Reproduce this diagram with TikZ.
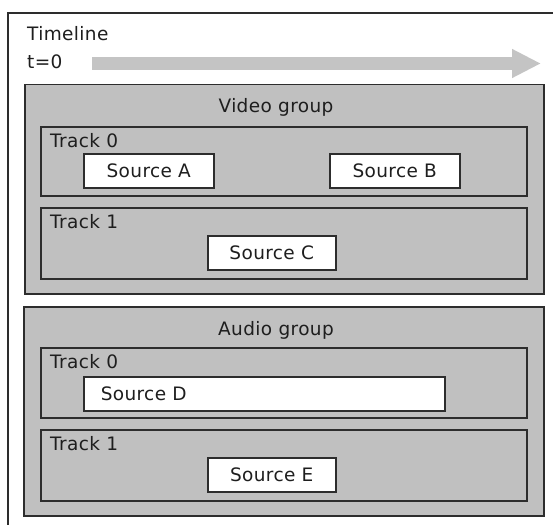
\documentclass[tikz,border=0pt]{standalone}
\usepackage{fontspec}
\setmainfont[LetterSpace=2]{DejaVu Sans}
\usetikzlibrary{arrows.meta}
\definecolor{panelgray}{RGB}{192,192,192}
\definecolor{bargray}{RGB}{196,196,196}
\definecolor{inkline}{RGB}{45,45,45}
\definecolor{inktext}{RGB}{30,30,30}
\begin{document}
\begin{tikzpicture}[x=1pt,y=-1pt,
  txt/.style={font=\fontsize{18.5pt}{22pt}\selectfont, text=inktext, inner sep=0pt},
  frame/.style={draw=inkline, line width=1.5pt, anchor=north west, inner sep=0pt},
  groupbox/.style={frame, fill=panelgray},
  trackbox/.style={frame, minimum width=486pt},
  sourcebox/.style={frame, fill=white, minimum height=34pt, txt},
]
\useasboundingbox (0,0) rectangle (553,524);

% outer timeline frame (runs off the right and bottom edges)
\coordinate (fbl) at (8,530);
\coordinate (ftl) at (8,13);
\coordinate (ftr) at (560,13);
\draw[draw=inkline, line width=1.5pt] (fbl) -- (ftl) -- (ftr);

\node[txt, anchor=base west] (timeline) at (27,40.5) {Timeline};
\node[txt, anchor=base west] (tzero) at (27,68.5) {t=0};

% time arrow
\coordinate (tstart) at (92,63.5);
\coordinate (tend) at (541,63.5);
\draw[bargray, line width=13pt, -{Triangle[length=29pt,width=27pt]}] (tstart) -- (tend);

% video group
\node[groupbox, minimum width=519pt, minimum height=209pt] (video) at (24,84) {};
\node[txt, anchor=base] (videotitle) at (276,113) {Video group};
\node[trackbox, minimum height=69pt] (vtrack0) at (40,126) {};
\node[txt, anchor=base west] (vtrack0label) at (50,147) {Track 0};
\node[sourcebox, minimum width=130pt] (srcA) at (83,153) {Source A};
\node[sourcebox, minimum width=130pt] (srcB) at (329,153) {Source B};
\node[trackbox, minimum height=71pt] (vtrack1) at (40,207) {};
\node[txt, anchor=base west] (vtrack1label) at (50,228) {Track 1};
\node[sourcebox, minimum width=128pt] (srcC) at (207,235) {Source C};

% audio group
\node[groupbox, minimum width=520pt, minimum height=209pt] (audio) at (23,306) {};
\node[txt, anchor=base] (audiotitle) at (276,335) {Audio group};
\node[trackbox, minimum height=70pt] (atrack0) at (40,347) {};
\node[txt, anchor=base west] (atrack0label) at (50,368) {Track 0};
\node[sourcebox, minimum width=361pt, text width=361pt, align=left] (srcD) at (83,376) {\hspace*{17pt}Source D};
\node[trackbox, minimum height=71pt] (atrack1) at (40,429) {};
\node[txt, anchor=base west] (atrack1label) at (50,450) {Track 1};
\node[sourcebox, minimum width=128pt] (srcE) at (207,457) {Source E};
\end{tikzpicture}
\end{document}
